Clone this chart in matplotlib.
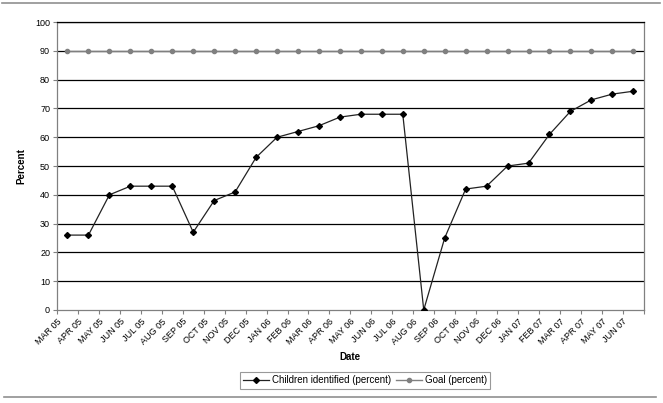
import matplotlib
matplotlib.use("Agg")
import matplotlib.pyplot as plt
from matplotlib.lines import Line2D

plt.rcParams['font.family'] = ['Liberation Sans', 'DejaVu Sans']

months = ["MAR 05", "APR 05", "MAY 05", "JUN 05", "JUL 05", "AUG 05", "SEP 05",
          "OCT 05", "NOV 05", "DEC 05", "JAN 06", "FEB 06", "MAR 06", "APR 06",
          "MAY 06", "JUN 06", "JUL 06", "AUG 06", "SEP 06", "OCT 06", "NOV 06",
          "DEC 06", "JAN 07", "FEB 07", "MAR 07", "APR 07", "MAY 07", "JUN 07"]
children = [26, 26, 40, 43, 43, 43, 27, 38, 41, 53, 60, 62, 64, 67,
            68, 68, 68, 0, 25, 42, 43, 50, 51, 61, 69, 73, 75, 76]
goal = [90] * len(months)
yticks = list(range(0, 101, 10))

fig = plt.figure(figsize=(6.63, 4.03), dpi=100)
ax = fig.add_axes([0.086, 0.231, 0.885, 0.714])

x = list(range(len(months)))
for v in yticks[1:]:
    ax.axhline(v, color='black', lw=0.9, zorder=1)
ax.plot(x, children, color='#222222', lw=0.9, marker='D', ms=3.0,
        mfc='black', mec='black', label='Children identified (percent)', zorder=3)
ax.plot(x, goal, color='#808080', lw=1.0, marker='o', ms=3.0,
        mfc='#808080', mec='#808080', label='Goal (percent)', zorder=3)

ax.set_xlim(-0.5, len(months) - 0.5)
ax.set_ylim(0, 100)
ax.set_yticks(yticks)
ax.set_xticks([i - 0.5 for i in range(len(months) + 1)])
ax.set_xticklabels(months + [""], rotation=45, ha='right', rotation_mode='anchor')
ax.tick_params(axis='both', labelsize=6.5, length=3, width=0.8, color='#808080', pad=2)
for s in ax.spines.values():
    s.set_color('#808080')
    s.set_linewidth(0.9)
ax.spines['top'].set_color('black')

ax.set_ylabel("Percent", fontsize=7, fontweight='bold', labelpad=6)
ax.set_xlabel("Date", fontsize=7, fontweight='bold', labelpad=4)

leg = ax.legend(loc='center', bbox_to_anchor=(0.525, -0.245), ncol=2, fontsize=7,
                frameon=True, fancybox=False, edgecolor='#808080',
                handlelength=2.6, handletextpad=0.3, columnspacing=0.6,
                borderpad=0.35)
leg.get_frame().set_linewidth(0.8)

fig.add_artist(Line2D([0.003, 0.995], [0.993, 0.993], color='#909090', lw=1.2))
fig.add_artist(Line2D([0.006, 0.99], [0.015, 0.015], color='#909090', lw=1.2))

fig.savefig("out.png", dpi=100)
